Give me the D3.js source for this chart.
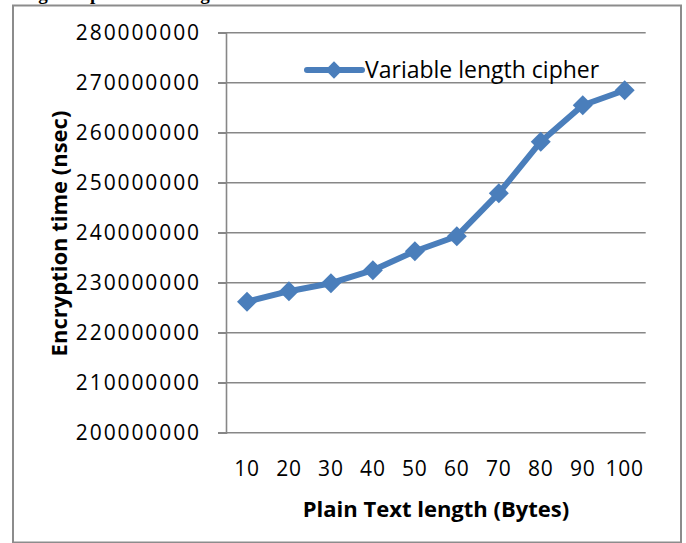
<!DOCTYPE html>
<html>
<head>
<meta charset="utf-8">
<script src="https://cdn.jsdelivr.net/npm/d3@7"></script>
<style>
  body { margin: 0; background: #fff; }
  svg { display: block; }
  text { font-family: "Open Sans", sans-serif; fill: #000; }
</style>
</head>
<body>
<svg id="chart" width="686" height="543"></svg>
<script>
// data
var lengths = [10, 20, 30, 40, 50, 60, 70, 80, 90, 100];
var encTime = [226200000, 228300000, 229900000, 232500000, 236300000,
               239300000, 247900000, 258200000, 265500000, 268500000];
var yTicks = [200000000, 210000000, 220000000, 230000000, 240000000,
              250000000, 260000000, 270000000, 280000000];
var seriesName = "Variable length cipher";

var svg = d3.select("#chart");
var blue = "#4a7ebb";
var grey = "#878787";

// caption from the page above, cut off by the crop
svg.append("text")
    .attr("x", 14)
    .attr("y", 0)
    .style("font-family", "Liberation Serif, serif")
    .style("font-weight", "bold")
    .style("font-size", "19px")
    .text("length of plaintext using RSA");

// outer frame
svg.append("rect")
    .attr("x", 13).attr("y", 5.5)
    .attr("width", 668).attr("height", 537)
    .attr("fill", "none")
    .attr("stroke", "#8c8c8c")
    .attr("stroke-width", 2);

var pLeft = 226, pRight = 645.7, pTop = 32.7, pBottom = 432.7;

var x = d3.scaleBand()
    .domain(lengths)
    .range([pLeft, pRight]);

var y = d3.scaleLinear()
    .domain([200000000, 280000000])
    .range([pBottom, pTop]);

// gridlines
svg.append("g")
    .selectAll("line")
    .data(yTicks)
  .enter().append("line")
    .attr("x1", pLeft - 8)
    .attr("x2", pRight)
    .attr("y1", function(d) { return y(d); })
    .attr("y2", function(d) { return y(d); })
    .attr("stroke", grey)
    .attr("stroke-width", 1.6);

// y axis
var yAxis = svg.append("g")
    .attr("transform", "translate(" + pLeft + ",0)")
    .call(d3.axisLeft(y).tickValues(yTicks).tickSize(8).tickPadding(17).tickFormat(d3.format("d")));
yAxis.select(".domain").attr("stroke", grey).attr("stroke-width", 1.6);
yAxis.selectAll(".tick line").attr("stroke", grey).attr("stroke-width", 1.6);
yAxis.selectAll("text")
    .style("font-size", "21px")
    .style("letter-spacing", "1.9px")
    .attr("fill", "#000");

// x axis labels
var xAxis = svg.append("g")
    .attr("transform", "translate(0," + pBottom + ")")
    .call(d3.axisBottom(x).tickSize(0).tickPadding(28));
xAxis.select(".domain").remove();
xAxis.selectAll("text")
    .style("font-size", "21px")
    .style("letter-spacing", "0.8px")
    .attr("fill", "#000");

// axis titles
svg.append("text")
    .attr("transform", "translate(67,233.5) rotate(-90)")
    .attr("text-anchor", "middle")
    .style("font-weight", "bold")
    .style("font-size", "22px")
    .text("Encryption time (nsec)");

svg.append("text")
    .attr("x", 436)
    .attr("y", 516.7)
    .attr("text-anchor", "middle")
    .style("font-weight", "bold")
    .style("font-size", "22px")
    .text("Plain Text length (Bytes)");

// series
var line = d3.line()
    .x(function(d, i) { return x(lengths[i]) + x.bandwidth() / 2; })
    .y(function(d) { return y(d); });

svg.append("path")
    .datum(encTime)
    .attr("d", line)
    .attr("fill", "none")
    .attr("stroke", blue)
    .attr("stroke-width", 6)
    .attr("stroke-linejoin", "round");

var diamond = d3.symbol().type(d3.symbolSquare).size(200);

svg.append("g")
    .selectAll("path")
    .data(encTime)
  .enter().append("path")
    .attr("d", diamond)
    .attr("transform", function(d, i) {
      return "translate(" + (x(lengths[i]) + x.bandwidth() / 2) + "," + y(d) + ") rotate(45)";
    })
    .attr("fill", blue);

// legend
var legend = svg.append("g").attr("transform", "translate(307,70)");
legend.append("line")
    .attr("x1", 0).attr("x2", 55)
    .attr("stroke", blue)
    .attr("stroke-width", 6)
    .attr("stroke-linecap", "round");
legend.append("path")
    .attr("d", d3.symbol().type(d3.symbolSquare).size(150))
    .attr("transform", "translate(27,0) rotate(45)")
    .attr("fill", blue);
legend.append("text")
    .attr("x", 58)
    .attr("y", 8)
    .style("font-size", "23px")
    .text(seriesName);
</script>
</body>
</html>
